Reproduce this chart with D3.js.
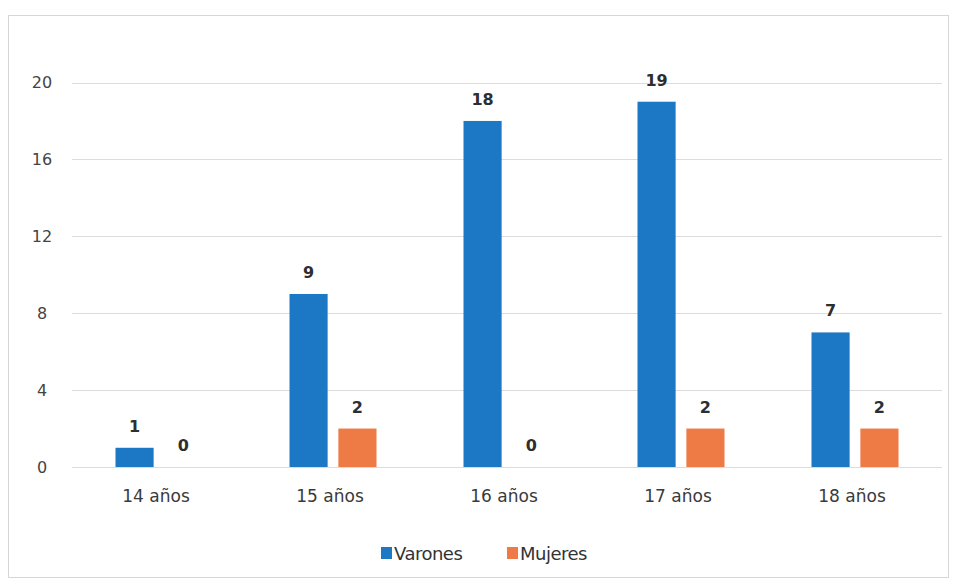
<!DOCTYPE html>
<html><head><meta charset="utf-8">
<script src="https://cdn.jsdelivr.net/npm/d3@7"></script>
<style>body{margin:0;background:#fff}svg{display:block}</style>
</head><body>
<script>
const categories = ["14 años","15 años","16 años","17 años","18 años"];
const seriesNames = ["Varones","Mujeres"];
const varones = [1,9,18,19,7];
const mujeres = [0,2,0,2,2];
const yTicks = [0,4,8,12,16,20];
const colors = ["#1c78c4","#ee7a45"];

(function(){
const W=953,H=586;
const svg=d3.select("body").append("svg").attr("width",W).attr("height",H);
svg.append("rect").attr("x",8.5).attr("y",15.5).attr("width",940).attr("height",562)
  .attr("fill","#fff").attr("stroke","#d6d6d6");

const pL=72,pR=942,pT=82.5,pB=467;
const x=d3.scaleBand().domain(categories).range([pL,pR]).paddingInner(0).paddingOuter(0);
const y=d3.scaleLinear().domain([0,20]).range([pB,pT]);
const x1=d3.scaleBand().domain(seriesNames).range([0,87]).paddingInner(0.22);

svg.append("g").selectAll("line").data(yTicks).enter().append("line")
  .attr("x1",pL).attr("x2",pR).attr("y1",d=>Math.round(y(d))+0.5).attr("y2",d=>Math.round(y(d))+0.5)
  .attr("stroke","#dcdcdc").attr("stroke-width",1.2);

const yAxis=d3.axisLeft(y).tickValues(yTicks).tickSize(0).tickPadding(0);
const ya=svg.append("g").attr("transform",`translate(42,0)`).call(yAxis);
ya.select(".domain").remove();
ya.selectAll("text").attr("text-anchor","middle").attr("font-family","'DejaVu Sans', sans-serif")
  .attr("font-size",16).attr("fill","#444");

const xAxis=d3.axisBottom(x).tickSize(0).tickPadding(0);
const xa=svg.append("g").attr("transform",`translate(-3,${pB+23})`).call(xAxis);
xa.select(".domain").remove();
xa.selectAll("text").attr("font-family","'DejaVu Sans', sans-serif").attr("font-size",17).attr("fill","#3a3a3a");

const data=[varones,mujeres];
const off=(174-87)/2;
data.forEach((vals,si)=>{
  const sg=svg.append("g");
  sg.selectAll("rect").data(vals).enter().append("rect")
    .attr("x",(d,i)=>x(categories[i])+off+x1(seriesNames[si]))
    .attr("y",d=>y(d)).attr("width",x1.bandwidth()).attr("height",d=>pB-y(d))
    .attr("fill",colors[si]);
  sg.selectAll("text").data(vals).enter().append("text")
    .attr("x",(d,i)=>x(categories[i])+off+x1(seriesNames[si])+x1.bandwidth()/2)
    .attr("y",d=>y(d)-16).attr("text-anchor","middle")
    .attr("font-family","'DejaVu Sans', sans-serif").attr("font-weight","bold").attr("font-size",16)
    .attr("fill","#2e2e2e").text(d=>d);
});

const leg=svg.append("g").attr("transform","translate(381,553)");
const items=[{n:"Varones",c:colors[0],x:0},{n:"Mujeres",c:colors[1],x:126}];
items.forEach(it=>{
  leg.append("rect").attr("x",it.x).attr("y",-6).attr("width",11).attr("height",12).attr("fill",it.c);
  leg.append("text").attr("x",it.x+13).attr("y",7).attr("font-family","'DejaVu Sans', sans-serif")
    .attr("font-size",18).attr("fill","#333").attr("letter-spacing",-0.5).text(it.n);
});
})();
</script>
</body></html>
